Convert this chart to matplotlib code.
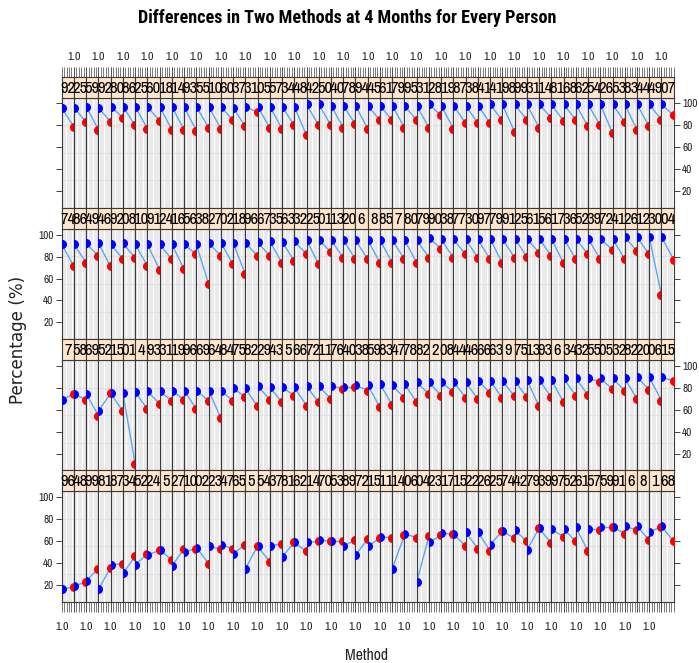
import matplotlib
matplotlib.use('Agg')
import matplotlib.pyplot as plt
from matplotlib import font_manager as fm
import os

# ---------------- data ----------------
ids_row1 = ['92','25','59','92','80','86','25','60','18','14','93','55','10','60','37','31','05','57','34','48',
            '42','50','40','78','94','45','61','79','95','31','28','19','87','38','41','41','98','99','31','14',
            '81','68','62','54','26','53','83','44','49','07']
ids_row2 = ['74','86','49','46','92','08','10','91','24','16','56','38','27','02','18','96','67','35','63','32',
            '25','01','13','20','6','8','85','7','80','79','90','38','77','30','97','79','91','25','61','56',
            '17','36','52','39','72','41','26','12','30','04']
ids_row3 = ['7','58','69','52','15','01','4','93','31','19','96','69','64','84','75','82','29','43','5','66',
            '72','11','76','40','38','59','83','47','78','82','2','08','44','46','66','63','9','75','13','93',
            '6','34','32','55','05','32','82','20','06','15']
ids_row4 = ['96','48','99','81','87','34','52','24','5','27','10','02','23','47','65','5','54','37','81','62',
            '14','70','53','89','72','15','11','14','06','04','23','17','15','22','26','25','74','42','79','39',
            '97','52','61','57','59','91','6','8','1','68']

m1_row1 = [96,96,97,96,97,97,97,97,97,97, 97,97,97,97,96,97,97,97,97,97,
           99,99,98,98,98,98,98,98,98,98, 99,98,98,98,98,99,99,99,99,99,
           99,99,99,99,99,99,99,99,99,99]
m2_row1 = [78.5,83,76,83,87,80,77,84,76,76, 75,78,77,84.5,79,92,78,77,80,71,
           80,80,78,81,77,84.5,84.5,78,84.5,78, 89,77,82,82,82,84.5,74,85,78,87,
           84,85,79,80,73,83,76,79,85,89]

m1_row2 = [91,91,92,92,91,92,91,91,91,91, 91,91,92.5,92.5,92.5,92.5,93,94,93.5,94,
           95,95,95,95,95,95,95,95,95,95, 97,95.5,95.5,95.5,95.5,96,96,96.3,96.3,96.3,
           96.3,96.3,96.3,96.3,96.3,96.3,97.6,97.6,97.6,98]
m2_row2 = [71,74.5,80.5,71,78,78.6,71.5,68,77.5,68.5, 82,55,80.5,73,64,80.5,80.5,74,76,82,
           73,84,79,77.5,77.5,74.5,74.5,77.5,74.5,79, 87,79,82,79,77.5,74,79,80,83.6,80.5,
           74,78,82,77.5,86,77.5,85,82,45,77]

m1_row3 = [69,74.4,74.4,58.6,75,75,75.9,76.8,76.8,77.4, 77.4,77.4,77.4,77.4,79.8,79.5,81.9,80.4,80.4,80.4,
           81.3,81.3,81.9,80.4,82.5,82.5,83.4,82.5,83.4,84.9, 84.9,85.5,85.5,84.9,86.4,86.4,86,86.4,87.3,87.3,
           87.3,88.5,88.5,88.5,88.5,88.5,88.5,89.4,89.4,89.4]
m2_row3 = [74.4,69,54.7,75,58.6,11,60.8,65.3,68.3,69, 60.8,68.3,52.6,67.8,71.5,63,69.2,66.8,72.8,63.8,
           66.8,69.8,78.9,80.4,77.4,62.2,64.4,70.4,66.8,74.3, 72.8,75.9,71,69.8,75.3,70.4,72.2,71.3,63.1,71.3,
           66.8,72.8,73.4,85.5,78.9,77.4,69.8,78.3,68.3,86.4]

m1_row4 = [16,18.9,23.7,16,37.9,30.4,37.9,47,52.1,37.1, 50,54,55,56.5,48.4,34.5,55.2,55.2,45.4,58.6,
           58.6,61,59.5,55,47,55.2,63.6,34.5,66.5,22.4, 58.6,67.1,66.5,68,68,56.5,69,70,51.5,71.3,
           70.5,71,72.2,71,72.8,72.8,73.4,73.4,68.1,73.4]
m2_row4 = [18.3,22.8,34.9,35.8,39.4,46,48.4,51.5,42.5,53, 53,39.4,52.5,53,56.5,55.2,41,57.4,58.6,50.4,
           59.5,59.5,59.5,61,61.7,62.2,63,65.1,63,64.2, 65.1,66,55.2,53,51,69,62.2,59.5,71.3,58,
           64,59.5,51,69.7,72.8,66.7,69.7,60.6,72.8,59.5]

rows = [(ids_row1, m1_row1, m2_row1), (ids_row2, m1_row2, m2_row2),
        (ids_row3, m1_row3, m2_row3), (ids_row4, m1_row4, m2_row4)]
methods = [1, 2]
y_ticks = [20, 40, 60, 80, 100]
x_ticks = [1.0, 1.2, 1.4, 1.6, 1.8, 2.0]

# ---------------- fonts ----------------
def pick(*names):
    for n in names:
        try:
            fm.findfont(fm.FontProperties(family=n), fallback_to_default=False)
            return n
        except Exception:
            pass
    return 'DejaVu Sans'

def pick_bold(*names):
    for n in names:
        try:
            f = fm.findfont(fm.FontProperties(family=n, weight='bold'), fallback_to_default=False)
            if 'bold' in os.path.basename(f).lower():
                return n
        except Exception:
            pass
    return None

NARROW = pick('Liberation Sans Narrow', 'Arial Narrow', 'Archivo Narrow', 'Roboto Condensed',
              'PT Sans Narrow', 'Asap Condensed', 'Liberation Sans', 'DejaVu Sans')
NARROW_B = pick_bold(NARROW, 'Liberation Sans Narrow', 'Arial Narrow', 'Archivo Narrow',
                     'Roboto Condensed', 'PT Sans Narrow', 'Asap Condensed', 'Barlow Condensed',
                     'Liberation Sans') or 'DejaVu Sans'
REG = pick('DejaVu Sans', 'Liberation Sans')

# ---------------- layout ----------------
W, H = 699, 663
fig = plt.figure(figsize=(W / 100, H / 100), dpi=100)

def fx(px):
    return px / W

def fy(py):
    return 1 - py / H

x0 = 61.7
pw = 12.24
row_top = [76.5, 207.7, 338.9, 470.1]
strip_h = 21.0
panel_h = 110.5
ylim = (4.8, 105.3)
edge = '#3a3a3a'
tickc = '#444444'
labc = '#222222'

for r, (ids, v1, v2) in enumerate(rows):
    n = len(ids)
    for k in range(n):
        left = x0 + k * pw
        st = row_top[r]
        pt = st + strip_h
        ax = fig.add_axes([fx(left), fy(pt + panel_h), pw / W, panel_h / H])
        ax.set_xlim(1, 2)
        ax.set_ylim(*ylim)
        for gx in [1.1, 1.2, 1.3, 1.4, 1.5, 1.6, 1.7, 1.8, 1.9]:
            ax.axvline(gx, color='#e6e6e6', lw=0.6, zorder=0)
        span = ylim[1] - ylim[0]
        for i in range(1, 4):
            ax.axhline(ylim[0] + i * span / 4, color='#e2e2e2', lw=0.9, zorder=0)
        ax.plot(methods, [v1[k], v2[k]], color='#5aa8f0', lw=1.0, zorder=2)
        ax.plot([methods[0]], [v1[k]], 'o', color='blue', ms=5.5, mec='blue', zorder=3)
        ax.plot([methods[1]], [v2[k]], 'o', color='red', ms=5.5, mec='red', zorder=3)
        for s in ax.spines.values():
            s.set_color(edge)
            s.set_linewidth(0.8)
        ax.set_yticks(y_ticks)
        ax.tick_params(axis='y', which='both', left=(k == 0), right=(k == n - 1),
                       direction='out', length=4, width=0.7, color=tickc,
                       labelleft=(k == 0 and r in (1, 3)), labelright=(k == n - 1 and r in (0, 2)),
                       labelsize=8, labelcolor=labc, pad=2)
        for lab in ax.get_yticklabels():
            lab.set_fontfamily(NARROW)
        if r == 3:
            ax.set_xticks(x_ticks)
            ax.set_xticklabels(['1.0' if (k % 2 == 0 and i == 0) else '' for i in range(len(x_ticks))])
            ax.tick_params(axis='x', direction='out', length=7, width=0.5, color=tickc,
                           labelsize=8.5, labelcolor=labc, pad=7.5)
            for lab in ax.get_xticklabels():
                lab.set_fontfamily(NARROW)
        else:
            ax.set_xticks([])

        sax = fig.add_axes([fx(left), fy(pt), pw / W, strip_h / H])
        sax.set_facecolor('#FFE5CC')
        sax.set_xlim(1, 2)
        sax.set_ylim(0, 1)
        sax.set_yticks([])
        for s in sax.spines.values():
            s.set_color(edge)
            s.set_linewidth(0.8)
        if r == 0:
            sax.set_xticks(x_ticks)
            sax.set_xticklabels(['1.0' if (k % 2 == 1 and i == 0) else '' for i in range(len(x_ticks))])
            sax.tick_params(axis='x', top=True, bottom=False, labeltop=True, labelbottom=False,
                            direction='out', length=7, width=0.5, color=tickc,
                            labelsize=8.5, labelcolor=labc, pad=3.5)
            for lab in sax.get_xticklabels():
                lab.set_fontfamily(NARROW)
        else:
            sax.set_xticks([])
        sax.text(0.5, 0.45, ids[k], transform=sax.transAxes, ha='center', va='center',
                 fontsize=12, family=NARROW, color='black', clip_on=False)

title = fig.text(fx(347), fy(18), 'Differences in Two Methods at 4 Months for Every Person',
                 ha='center', va='center', fontsize=12, fontweight='bold', family=NARROW_B,
                 color='black')
ylab = fig.text(fx(18), fy(340), 'Percentage (%)', rotation=90, ha='center', va='center',
                fontsize=11, family=REG, color=labc)
xlab = fig.text(fx(367), fy(655), 'Method', ha='center', va='center', fontsize=11,
                family=NARROW, color=labc)

# fit text sizes to the reference extents
renderer = fig.canvas.get_renderer()
def fit(t, target, along='w'):
    for _ in range(3):
        bb = t.get_window_extent(renderer=renderer)
        cur = bb.width if along == 'w' else bb.height
        if cur > 0:
            t.set_fontsize(t.get_fontsize() * target / cur)

fit(title, 418, 'w')
fit(ylab, 128, 'h')
fit(xlab, 43, 'w')

fig.savefig('out.png', dpi=100)
